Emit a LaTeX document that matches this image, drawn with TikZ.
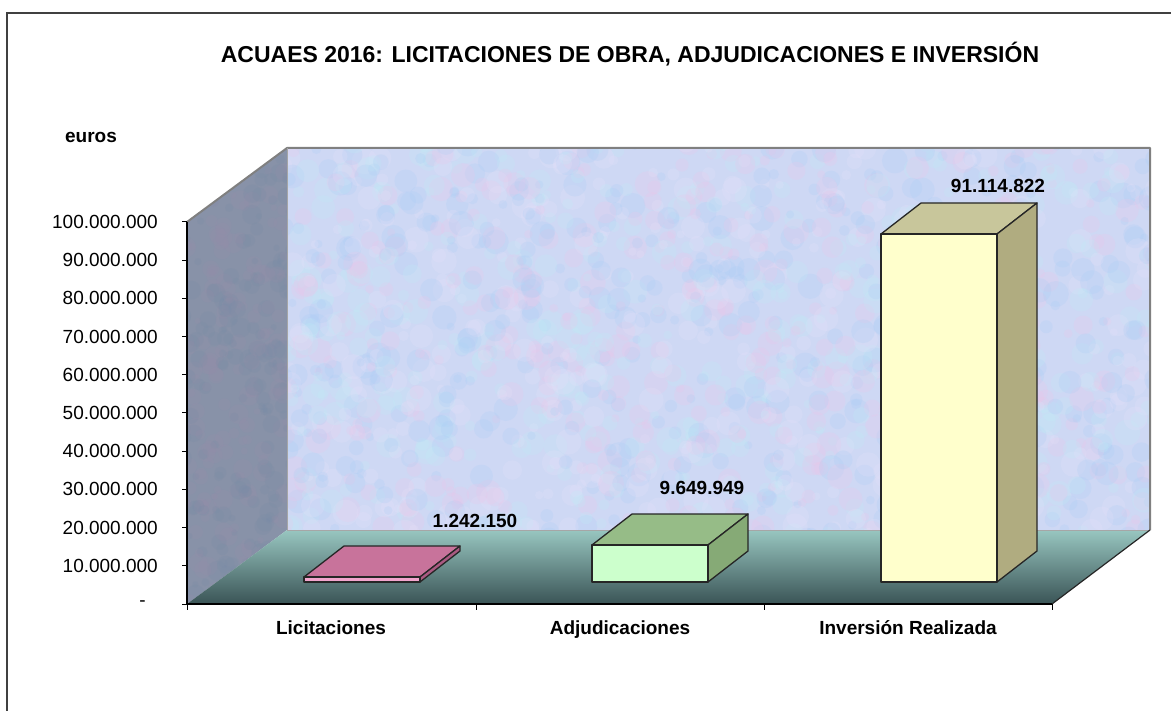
\documentclass[tikz,border=0pt]{standalone}
\usepackage{fontspec}
\setmainfont{Liberation Sans}
\definecolor{wallA}{RGB}{206,216,244}
\definecolor{texA}{RGB}{238,196,232}
\definecolor{texB}{RGB}{168,204,244}
\definecolor{texC}{RGB}{190,238,248}
\definecolor{texD}{RGB}{232,226,250}
\definecolor{wallL}{RGB}{136,146,168}
\definecolor{texLA}{RGB}{150,142,168}
\definecolor{texLB}{RGB}{120,140,166}
\definecolor{floorTop}{RGB}{152,198,192}
\definecolor{floorBot}{RGB}{58,84,86}
\definecolor{licF}{RGB}{242,165,205}
\definecolor{licT}{RGB}{200,115,155}
\definecolor{licS}{RGB}{170,90,130}
\definecolor{adjF}{RGB}{204,255,204}
\definecolor{adjT}{RGB}{150,188,135}
\definecolor{adjS}{RGB}{134,170,118}
\definecolor{invF}{RGB}{255,255,204}
\definecolor{invT}{RGB}{200,198,155}
\definecolor{invS}{RGB}{176,172,128}
\newcommand{\mybar}[7]{%
  % #1 x1, #2 x2, #3 ybase, #4 ytop, #5 front, #6 top, #7 side
  \filldraw[barline, fill=#6] (#1,#4) -- ({#1+40},{#4-31}) -- ({#2+40},{#4-31}) -- (#2,#4) -- cycle;
  \filldraw[barline, fill=#7] (#2,#4) -- ({#2+40},{#4-31}) -- ({#2+40},{#3-31}) -- (#2,#3) -- cycle;
  \filldraw[barline, fill=#5] (#1,#3) rectangle (#2,#4);
}
\begin{document}
\begin{tikzpicture}[x=1pt,y=-1pt,
  lab/.style={inner sep=0pt, font=\fontsize{19}{22}\selectfont},
  blab/.style={inner sep=0pt, font=\fontsize{19}{22}\selectfont\bfseries},
  ttl/.style={inner sep=0pt, font=\fontsize{23}{27}\selectfont\bfseries},
  barline/.style={draw=black!85, line width=1.3pt, line join=round},
]
\useasboundingbox (0,0) rectangle (1171,711);
\fill[white] (0,0) rectangle (1171,711);

% back wall
\fill[wallA] (287,148) rectangle (1150,530);
\begin{scope}
\clip (287,148) rectangle (1150,530);
\pgfmathsetseed{11}
\foreach \i in {1,...,1700}{
  \pgfmathsetmacro\px{280+rnd*877}
  \pgfmathsetmacro\py{141+rnd*396}
  \pgfmathsetmacro\pr{4+rnd*9}
  \pgfmathtruncatemacro\pc{int(rnd*4)}
  \ifcase\pc \def\cc{texA}\or\def\cc{texB}\or\def\cc{texC}\else\def\cc{texD}\fi
  \fill[\cc, opacity=0.22] (\px,\py) circle[radius=\pr pt];
}
\end{scope}

% left wall
\fill[wallL] (187,222) -- (287,148) -- (287,530) -- (187,604) -- cycle;
\begin{scope}
\clip (187,222) -- (287,148) -- (287,530) -- (187,604) -- cycle;
\pgfmathsetseed{5}
\foreach \i in {1,...,400}{
  \pgfmathsetmacro\px{182+rnd*110}
  \pgfmathsetmacro\py{143+rnd*466}
  \pgfmathsetmacro\pr{3+rnd*7}
  \pgfmathtruncatemacro\pc{int(rnd*2)}
  \ifcase\pc \def\cc{texLA}\else\def\cc{texLB}\fi
  \fill[\cc, opacity=0.22] (\px,\py) circle[radius=\pr pt];
}
\end{scope}

% floor
\shade[top color=floorTop, bottom color=floorBot]
  (287,530) -- (1150,530) -- (1052,604) -- (187,604) -- cycle;

% wall borders
\draw[gray, line width=2pt, line join=round] (187,222) -- (287,148) -- (1150,148) -- (1150,530);
\draw[gray!70, line width=0.8pt] (287,148) -- (287,530) -- (1150,530);
\draw[black!85, line width=1.2pt] (1150,530) -- (1052,604);

% bars
\mybar{304}{420}{582}{577}{licF}{licT}{licS}
\mybar{592}{708}{582}{545}{adjF}{adjT}{adjS}
\mybar{881}{997}{582}{234}{invF}{invT}{invS}

% axes
\draw[black, line width=1.2pt] (187,222) -- (187,604) -- (1052,604);
\foreach \v in {0,10,...,100}{
  \draw[black, line width=1pt] (182,{604-3.82*\v}) -- (187,{604-3.82*\v});
}
\foreach \x in {187,476,764,1052}{
  \draw[black, line width=1pt] (\x,604) -- (\x,610);
}

% y labels
\node[lab, anchor=east] (y0) at (146,604) {-};
\foreach \v/\t in {10/10.000.000,20/20.000.000,30/30.000.000,40/40.000.000,50/50.000.000,60/60.000.000,70/70.000.000,80/80.000.000,90/90.000.000,100/100.000.000}{
  \node[lab, anchor=east] (y\v) at (158,{604-3.82*\v}) {\t};
}

% texts
\node[ttl] (title) at (630,54) {ACUAES 2016: LICITACIONES DE OBRA, ADJUDICACIONES E INVERSIÓN};
\node[blab] (euros) at (91,137) {euros};
\node[blab, anchor=base] (c1) at (331,634) {Licitaciones};
\node[blab, anchor=base] (c2) at (620,634) {Adjudicaciones};
\node[blab, anchor=base] (c3) at (908,634) {Inversión Realizada};
\node[blab, anchor=base] (v1) at (475,527) {1.242.150};
\node[blab, anchor=base] (v2) at (702,494) {9.649.949};
\node[blab, anchor=base] (v3) at (998,193) {91.114.822};

% outer frame
\draw[black!75, line width=1.5pt] (7,711) -- (7,13) -- (1171,13);
\end{tikzpicture}
\end{document}
